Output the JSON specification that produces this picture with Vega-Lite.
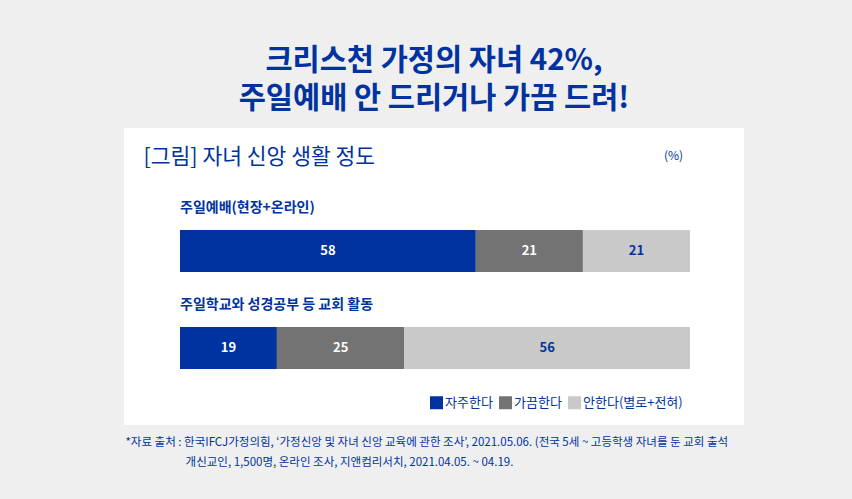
{
  "$schema": "https://vega.github.io/schema/vega-lite/v6.json",
  "width": 620,
  "height": 297,
  "autosize": {"type": "none"},
  "padding": {"left": 124, "top": 128, "right": 108, "bottom": 74},
  "background": "#efefef",
  "title": {
    "text": ["크리스천 가정의 자녀 42%,", "주일예배 안 드리거나 가끔 드려!"],
    "font": "Noto Sans CJK KR",
    "fontSize": 29.5,
    "fontWeight": "bold",
    "color": "#0033a0",
    "lineHeight": 38,
    "anchor": "middle",
    "offset": 14
  },
  "config": {
    "view": {"fill": "white", "stroke": null},
    "font": "Noto Sans CJK KR"
  },
  "data": {
    "values": [
      {"activity": "주일예배(현장+온라인)", "freq": "자주한다", "rank": 1, "value": 58},
      {"activity": "주일예배(현장+온라인)", "freq": "가끔한다", "rank": 2, "value": 21},
      {"activity": "주일예배(현장+온라인)", "freq": "안한다(별로+전혀)", "rank": 3, "value": 21},
      {"activity": "주일학교와 성경공부 등 교회 활동", "freq": "자주한다", "rank": 1, "value": 19},
      {"activity": "주일학교와 성경공부 등 교회 활동", "freq": "가끔한다", "rank": 2, "value": 25},
      {"activity": "주일학교와 성경공부 등 교회 활동", "freq": "안한다(별로+전혀)", "rank": 3, "value": 56}
    ]
  },
  "resolve": {"axis": {"x": "independent", "y": "independent"}},
  "layer": [
    {
      "mark": {"type": "bar", "strokeWidth": 0},
      "encoding": {
        "x": {
          "field": "value",
          "type": "quantitative",
          "stack": "zero",
          "scale": {"domain": [0, 100], "range": [56, 566], "nice": false, "zero": false},
          "axis": {
            "orient": "top",
            "labels": false,
            "ticks": false,
            "domain": false,
            "grid": false,
            "title": "[그림] 자녀 신앙 생활 정도",
            "titleX": 19,
            "titleY": 29,
            "titleAlign": "left",
            "titleAnchor": "start",
            "titleBaseline": "middle",
            "titleFont": "Noto Sans CJK KR",
            "titleFontSize": 21.5,
            "titleFontWeight": "normal",
            "titleColor": "#0033a0"
          }
        },
        "y": {
          "field": "activity",
          "type": "nominal",
          "scale": {
            "domain": ["주일예배(현장+온라인)", "주일학교와 성경공부 등 교회 활동"],
            "paddingInner": 0.567,
            "paddingOuter": 0.814,
            "align": 0.646
          },
          "axis": {
            "orient": "right",
            "labels": false,
            "ticks": false,
            "domain": false,
            "grid": false,
            "title": "(%)",
            "titleAngle": 0,
            "titleX": -71,
            "titleY": 27,
            "titleAlign": "center",
            "titleBaseline": "middle",
            "titleFont": "Noto Sans CJK KR",
            "titleFontSize": 12,
            "titleFontWeight": "normal",
            "titleColor": "#0033a0"
          }
        },
        "color": {
          "field": "freq",
          "type": "nominal",
          "scale": {
            "domain": ["자주한다", "가끔한다", "안한다(별로+전혀)"],
            "range": ["#0033a0", "#737373", "#c8c9c8"]
          },
          "legend": {
            "orient": "none",
            "legendX": 306,
            "legendY": 268,
            "direction": "horizontal",
            "title": null,
            "padding": 0,
            "symbolType": "square",
            "symbolSize": 169,
            "symbolStrokeWidth": 0,
            "symbolOpacity": 1,
            "labelFont": "Noto Sans CJK KR",
            "labelFontSize": 13,
            "labelColor": "#0033a0",
            "labelOffset": 2,
            "columnPadding": 6
          }
        },
        "order": {"field": "rank", "type": "quantitative"}
      }
    },
    {
      "transform": [
        {"stack": "value", "groupby": ["activity"], "sort": [{"field": "rank"}], "as": ["v0", "v1"]},
        {"fold": ["v0", "v1"], "as": ["edge", "pos"]},
        {"aggregate": [{"op": "mean", "field": "pos", "as": "mid"}], "groupby": ["activity", "freq", "value"]}
      ],
      "mark": {"type": "text", "fontSize": 13, "fontWeight": "bold", "baseline": "middle", "align": "center"},
      "encoding": {
        "x": {
          "field": "mid",
          "type": "quantitative",
          "axis": {
            "orient": "bottom",
            "labels": false,
            "ticks": false,
            "domain": false,
            "grid": false,
            "title": [
              "*자료 출처 : 한국IFCJ가정의힘, ‘가정신앙 및 자녀 신앙 교육에 관한 조사’, 2021.05.06. (전국 5세 ~ 고등학생 자녀를 둔 교회 출석",
              "​　　　　　 개신교인, 1,500명, 온라인 조사, 지앤컴리서치, 2021.04.05. ~ 04.19."
            ],
            "titleX": 1,
            "titleY": 11,
            "titleAlign": "left",
            "titleAnchor": "start",
            "titleBaseline": "top",
            "titleFont": "Noto Sans CJK KR",
            "titleFontSize": 11.5,
            "titleFontWeight": "normal",
            "titleLineHeight": 20,
            "titleColor": "#0033a0"
          }
        },
        "y": {"field": "activity", "type": "nominal", "axis": null},
        "text": {"field": "value", "type": "quantitative"},
        "color": {
          "condition": {"test": "datum.freq === '안한다(별로+전혀)'", "value": "#0033a0"},
          "value": "white"
        }
      }
    },
    {
      "transform": [{"filter": "datum.rank === 1"}],
      "mark": {"type": "text", "fontSize": 14, "fontWeight": "bold", "align": "left", "baseline": "alphabetic", "dy": -18, "color": "#0033a0"},
      "encoding": {
        "x": {"datum": 0, "type": "quantitative", "axis": null},
        "y": {"field": "activity", "type": "nominal", "bandPosition": 0, "axis": null},
        "text": {"field": "activity", "type": "nominal"}
      }
    }
  ]
}
